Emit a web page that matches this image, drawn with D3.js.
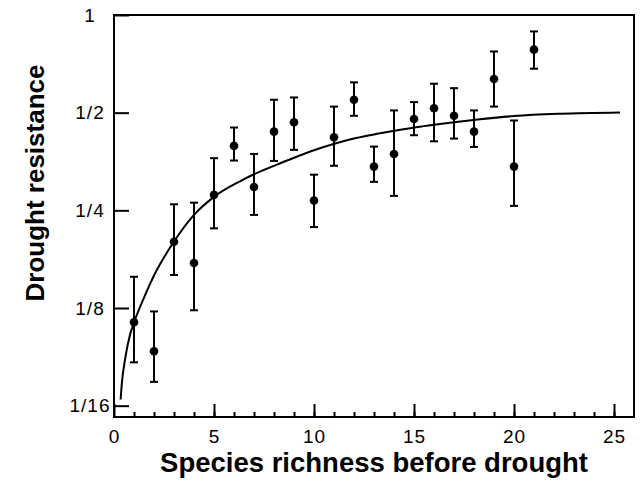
<!DOCTYPE html>
<html>
<head>
<meta charset="utf-8">
<script src="https://cdn.jsdelivr.net/npm/d3@7"></script>
<style>
  html, body { margin: 0; padding: 0; background: #fff; }
  svg { display: block; }
</style>
</head>
<body>
<div id="chart"></div>
<script>
'use strict';

// species richness classes and mean drought resistance (fraction of biomass kept)
var species = [1, 2, 3, 4, 5, 6, 7, 8, 9, 10, 11, 12, 13, 14, 15, 16, 17, 18, 19, 20, 21];
var resistance = [0.113, 0.092, 0.200, 0.172, 0.279, 0.395, 0.295, 0.437, 0.467, 0.268, 0.420,
  0.548, 0.341, 0.373, 0.478, 0.516, 0.489, 0.437, 0.635, 0.341, 0.782];
var errLow = [0.085, 0.074, 0.158, 0.123, 0.220, 0.356, 0.242, 0.355, 0.384, 0.222, 0.343,
  0.489, 0.306, 0.277, 0.426, 0.408, 0.416, 0.392, 0.522, 0.258, 0.683];
var errHigh = [0.156, 0.122, 0.261, 0.264, 0.362, 0.450, 0.373, 0.548, 0.557, 0.322, 0.522,
  0.620, 0.393, 0.508, 0.539, 0.614, 0.595, 0.508, 0.772, 0.473, 0.890];

// fitted curve
var fitX = [0.33, 0.4, 0.55, 0.8, 1, 1.5, 2, 3, 4, 5, 6.3, 7, 8, 9, 10, 11.1, 12.1, 13.1, 14.1,
  15.1, 16, 17, 18.3, 20, 22.3, 25.3];
var fitY = [0.0653, 0.0740, 0.0866, 0.1034, 0.1127, 0.1346, 0.1574, 0.2003, 0.2421, 0.2751,
  0.3072, 0.3229, 0.3428, 0.3630, 0.3829, 0.4024, 0.4175, 0.4295, 0.4403, 0.4505, 0.4587,
  0.4671, 0.4771, 0.4881, 0.4961, 0.5007];

var xMajorTicks = [0, 5, 10, 15, 20, 25];
var yTickValues = [1 / 16, 1 / 8, 1 / 4, 1 / 2, 1];
var yTickLabels = ['1/16', '1/8', '1/4', '1/2', '1'];

var width = 643;
var height = 487;
var margin = { top: 15, right: 9, bottom: 70, left: 114 };
var innerW = width - margin.left - margin.right;
var innerH = height - margin.top - margin.bottom;
var font = 'Liberation Sans, Arial, sans-serif';

var x = d3.scaleLinear().domain([0, 26]).range([0, innerW]);
var y = d3.scaleLog().base(2).domain([Math.pow(2, -4.116), 1]).range([innerH, 0]);

var svg = d3.select('#chart')
  .append('svg')
  .attr('width', width)
  .attr('height', height);

var g = svg.append('g')
  .attr('transform', 'translate(' + margin.left + ',' + margin.top + ')');

// frame
g.append('rect')
  .attr('x', 0)
  .attr('y', 0)
  .attr('width', innerW)
  .attr('height', innerH)
  .attr('fill', 'none')
  .attr('stroke', '#000')
  .attr('stroke-width', 2);

// x minor ticks
g.append('g')
  .attr('transform', 'translate(0,' + innerH + ')')
  .call(d3.axisBottom(x).tickValues(d3.range(1, 26)).tickSize(-5).tickFormat(''))
  .call(function (a) { a.select('.domain').remove(); })
  .selectAll('line').attr('stroke-width', 2);

// x major ticks + labels
var xAxis = g.append('g')
  .attr('transform', 'translate(0,' + innerH + ')')
  .call(d3.axisBottom(x).tickValues(xMajorTicks).tickSize(-13).tickFormat(d3.format('d')));
xAxis.select('.domain').remove();
xAxis.selectAll('line').attr('stroke-width', 2);
xAxis.selectAll('text')
  .attr('y', 13)
  .style('font-family', font)
  .style('font-size', '19px')
  .style('letter-spacing', '1px')
  .attr('fill', '#000');

// y ticks + labels
var yAxis = g.append('g')
  .call(d3.axisLeft(y).tickValues(yTickValues).tickSize(-15)
    .tickFormat(function (d, i) { return yTickLabels[i]; }));
yAxis.select('.domain').remove();
yAxis.selectAll('line').attr('stroke-width', 2);
yAxis.selectAll('text')
  .attr('x', -24)
  .attr('text-anchor', 'middle')
  .style('font-family', font)
  .style('font-size', '19px')
  .style('letter-spacing', '1px')
  .attr('fill', '#000');

// fitted curve
var fit = fitX.map(function (d, i) { return [d, fitY[i]]; });
g.append('path')
  .datum(fit)
  .attr('fill', 'none')
  .attr('stroke', '#000')
  .attr('stroke-width', 2)
  .attr('d', d3.line()
    .x(function (d) { return x(d[0]); })
    .y(function (d) { return y(d[1]); })
    .curve(d3.curveMonotoneX));

// error bars
var bars = g.append('g').selectAll('g')
  .data(species)
  .enter().append('g')
  .attr('stroke', '#000')
  .attr('stroke-width', 2);

bars.append('line')
  .attr('x1', function (d) { return x(d); })
  .attr('x2', function (d) { return x(d); })
  .attr('y1', function (d, i) { return y(errLow[i]); })
  .attr('y2', function (d, i) { return y(errHigh[i]); });
bars.append('line')
  .attr('x1', function (d) { return x(d) - 4; })
  .attr('x2', function (d) { return x(d) + 4; })
  .attr('y1', function (d, i) { return y(errLow[i]); })
  .attr('y2', function (d, i) { return y(errLow[i]); });
bars.append('line')
  .attr('x1', function (d) { return x(d) - 4; })
  .attr('x2', function (d) { return x(d) + 4; })
  .attr('y1', function (d, i) { return y(errHigh[i]); })
  .attr('y2', function (d, i) { return y(errHigh[i]); });

// points
g.append('g').selectAll('circle')
  .data(species)
  .enter().append('circle')
  .attr('cx', function (d) { return x(d); })
  .attr('cy', function (d, i) { return y(resistance[i]); })
  .attr('r', 4.3)
  .attr('fill', '#000');

// axis titles
svg.append('text')
  .attr('x', 374)
  .attr('y', 472)
  .attr('text-anchor', 'middle')
  .style('font-family', font)
  .style('font-weight', 'bold')
  .style('font-size', '27.5px')
  .text('Species richness before drought');

svg.append('text')
  .attr('transform', 'translate(44,183) rotate(-90)')
  .attr('text-anchor', 'middle')
  .style('font-family', font)
  .style('font-weight', 'bold')
  .style('font-size', '26px')
  .text('Drought resistance');
</script>
</body>
</html>
